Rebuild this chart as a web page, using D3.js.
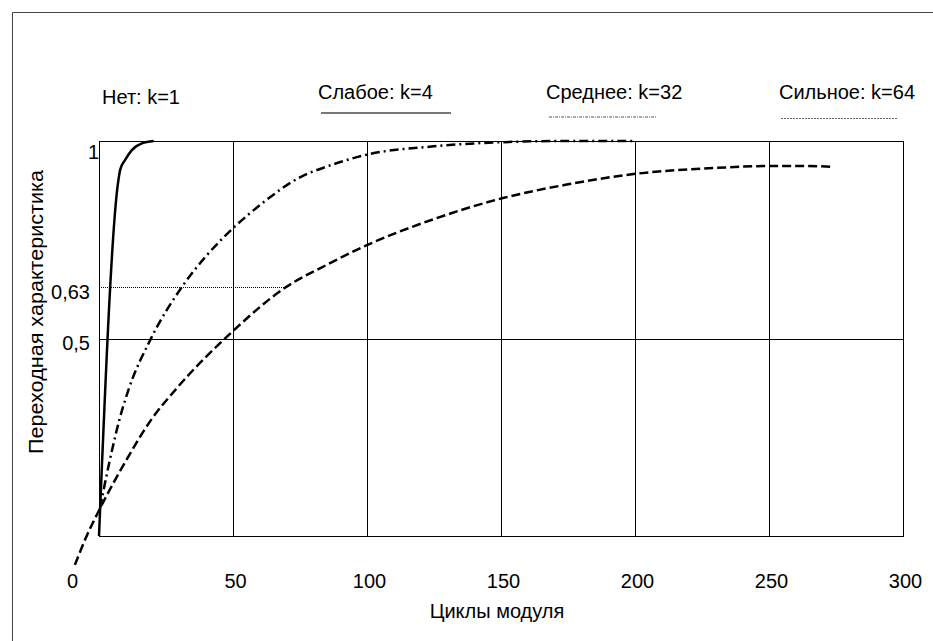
<!DOCTYPE html>
<html>
<head>
<meta charset="utf-8">
<script src="https://cdn.jsdelivr.net/npm/d3@7"></script>
<style>
  body { margin: 0; background: #fff; }
  text { font-family: Arial, "Liberation Sans", sans-serif; fill: #000; }
</style>
</head>
<body>
<svg id="chart" width="933" height="641"></svg>
<script>
// axis ticks
const xTicks = [0, 50, 100, 150, 200, 250, 300];
const yTicks = [0.5, 0.63, 1];
const yTickLabels = ["0,5", "0,63", "1"];
const xGrid = [50, 100, 150, 200, 250];
const yGrid = [0.5];
const markLevel = 0.63;
const markEndX = 69;

// legend
const legendLabels = ["Нет: k=1", "Слабое: k=4", "Среднее: k=32", "Сильное: k=64"];

// curves
const weakX = [0, 7.0, 7.9, 9.75, 12.25, 16, 20.4];
const weakY = [0, 0.889, 0.927, 0.952, 0.977, 0.994, 1.0];

const midX = [0.4, 3.5, 7.6, 11, 19.1, 31, 39.75, 50, 61.6, 74.1, 86.6, 100.3, 124, 150.4, 174, 200.4];
const midY = [0.071, 0.175, 0.294, 0.37, 0.496, 0.631, 0.707, 0.779, 0.846, 0.905, 0.939, 0.966, 0.986, 0.997, 1.0, 1.0];

const strongX = [-9, -4.6, 0.4, 10, 19.75, 28.5, 50, 69.1, 86, 100.2, 124, 150.4, 174, 201.6, 230.4, 252.6, 261.6, 272.9];
const strongY = [-0.073, 0, 0.07, 0.19, 0.297, 0.37, 0.519, 0.627, 0.69, 0.737, 0.8, 0.855, 0.889, 0.918, 0.932, 0.937, 0.937, 0.935];

const svg = d3.select("#chart");
const margin = { top: 141, right: 30, bottom: 105, left: 99 };
const width = 933 - margin.left - margin.right;
const height = 641 - margin.top - margin.bottom;

const x = d3.scaleLinear().domain([0, 300]).range([0, width]);
const y = d3.scaleLinear().domain([0, 1]).range([height, 0]);

// outer frame (top and left only)
svg.append("path")
  .attr("d", "M12.5,641V12.5H933")
  .attr("fill", "none")
  .attr("stroke", "#444")
  .attr("stroke-width", 1);

const g = svg.append("g").attr("transform", `translate(${margin.left},${margin.top})`);

// grid
g.selectAll(".vgrid")
  .data(xGrid)
  .enter()
  .append("line")
  .attr("class", "vgrid")
  .attr("x1", d => Math.round(x(d)) + 0.5)
  .attr("x2", d => Math.round(x(d)) + 0.5)
  .attr("y1", 0)
  .attr("y2", height)
  .attr("stroke", "#000")
  .attr("stroke-width", 1);

g.selectAll(".hgrid")
  .data(yGrid)
  .enter()
  .append("line")
  .attr("class", "hgrid")
  .attr("x1", 0)
  .attr("x2", width)
  .attr("y1", d => Math.round(y(d)) + 0.5)
  .attr("y2", d => Math.round(y(d)) + 0.5)
  .attr("stroke", "#000")
  .attr("stroke-width", 1);

g.append("line")
  .attr("x1", 0)
  .attr("x2", x(markEndX))
  .attr("y1", Math.round(y(markLevel)) + 0.5)
  .attr("y2", Math.round(y(markLevel)) + 0.5)
  .attr("stroke", "#000")
  .attr("stroke-width", 1)
  .attr("stroke-dasharray", "1,1");

// plot frame
g.append("rect")
  .attr("x", 0.5)
  .attr("y", 0.5)
  .attr("width", width)
  .attr("height", height)
  .attr("fill", "none")
  .attr("stroke", "#000")
  .attr("stroke-width", 1);

// axes
const xAxis = d3.axisBottom(x).tickValues(xTicks).tickSize(0).tickPadding(38);
const xg = g.append("g").attr("transform", `translate(0,${height})`).call(xAxis);
xg.select(".domain").remove();
xg.selectAll("text")
  .attr("font-size", 20)
  .attr("font-family", "Arial, 'Liberation Sans', sans-serif")
  .attr("fill", "#000")
  .attr("dx", d => d === 0 ? -27 : 2);

const yAxis = d3.axisLeft(y).tickValues(yTicks).tickSize(0).tickPadding(9)
  .tickFormat((d, i) => yTickLabels[i]);
const yg = g.append("g").call(yAxis);
yg.select(".domain").remove();
yg.selectAll("text")
  .attr("font-size", 20)
  .attr("font-family", "Arial, 'Liberation Sans', sans-serif")
  .attr("fill", "#000")
  .attr("dy", d => d === 1 ? "0.85em" : "0.55em")
  .attr("dx", d => d === 1 ? 9 : 0);

// axis titles
svg.append("text")
  .attr("x", 497)
  .attr("y", 618)
  .attr("text-anchor", "middle")
  .attr("font-size", 20)
  .text("Циклы модуля");

svg.append("text")
  .attr("transform", "translate(43,312) rotate(-90)")
  .attr("text-anchor", "middle")
  .attr("font-size", 20)
  .attr("textLength", 284)
  .attr("lengthAdjust", "spacingAndGlyphs")
  .text("Переходная характеристика");

// curves
const line = d3.line()
  .x(d => x(d[0]))
  .y(d => y(d[1]))
  .curve(d3.curveMonotoneX);

const series = [
  { xs: weakX, ys: weakY, dash: null },
  { xs: midX, ys: midY, dash: "9,4,2,4" },
  { xs: strongX, ys: strongY, dash: "9,4" }
];

series.forEach(s => {
  g.append("path")
    .datum(d3.zip(s.xs, s.ys))
    .attr("d", line)
    .attr("fill", "none")
    .attr("stroke", "#000")
    .attr("stroke-width", 2.5)
    .attr("stroke-dasharray", s.dash);
});

// legend
const legendX = [102, 318, 546, 779];
const legendY = [104, 99, 99, 99];
svg.selectAll(".legend")
  .data(legendLabels)
  .enter()
  .append("text")
  .attr("class", "legend")
  .attr("x", (d, i) => legendX[i])
  .attr("y", (d, i) => legendY[i])
  .attr("font-size", 20)
  .text(d => d);

const samples = [
  { x1: 321, x2: 451, y: 113, stroke: "#777", w: 2, dash: null },
  { x1: 549, x2: 657, y: 117, stroke: "#555", w: 1, dash: "3,1,1,1" },
  { x1: 781, x2: 897, y: 118.5, stroke: "#666", w: 1, dash: "2,1" }
];
svg.selectAll(".sample")
  .data(samples)
  .enter()
  .append("line")
  .attr("class", "sample")
  .attr("x1", d => d.x1)
  .attr("x2", d => d.x2)
  .attr("y1", d => d.y)
  .attr("y2", d => d.y)
  .attr("stroke", d => d.stroke)
  .attr("stroke-width", d => d.w)
  .attr("stroke-dasharray", d => d.dash);
</script>
</body>
</html>
